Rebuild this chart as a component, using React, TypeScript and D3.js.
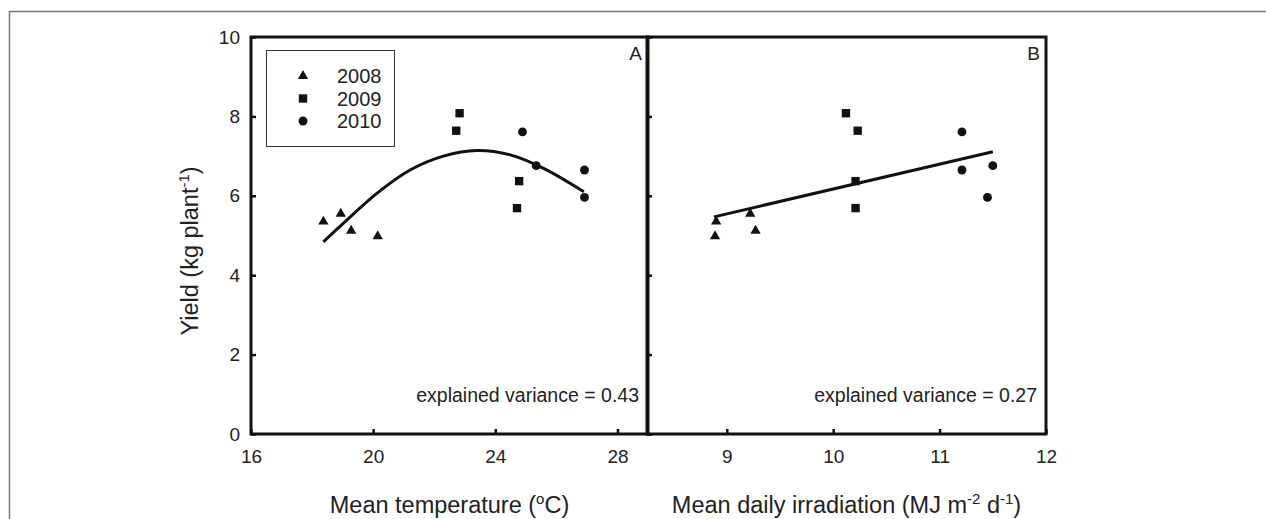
import React, { useEffect, useRef } from "react";
import * as d3 from "d3";

const years = ["2008", "2009", "2010"];
const yield2008 = [5.35, 5.55, 5.12, 4.98];
const temp2008 = [18.37, 18.94, 19.28, 20.15];
const irr2008 = [8.9, 9.22, 9.27, 8.89];
const yield2009 = [8.08, 7.64, 6.37, 5.69];
const temp2009 = [22.83, 22.72, 24.78, 24.71];
const irr2009 = [10.12, 10.23, 10.21, 10.21];
const yield2010 = [7.61, 6.76, 6.65, 5.96];
const temp2010 = [24.89, 25.34, 26.92, 26.92];
const irr2010 = [11.21, 11.5, 11.21, 11.45];

// fitted curves, points
const fitTempX = [18.37, 19.03, 20.12, 21.21, 22.3, 23.4, 24.49, 25.58, 26.9];
const fitTempY = [4.84, 5.31, 6.06, 6.65, 7.0, 7.14, 7.03, 6.69, 6.1];
const fitIrrX = [8.88, 11.5];
const fitIrrY = [5.47, 7.11];

const yTicks = [0, 2, 4, 6, 8, 10];
const tempTicks = [16, 20, 24, 28];
const irrTicks = [9, 10, 11, 12];

const FONT = "'Liberation Sans', Arial, sans-serif";

// text with superscripts: [text, isSuper] pieces
const writeParts = (t, parts, supSize, shift) => {
  let up = false;
  parts.forEach(([txt, sup]) => {
    const s = t.append("tspan").text(txt);
    if (sup && !up) s.attr("dy", -shift);
    if (!sup && up) s.attr("dy", shift);
    if (sup) s.attr("font-size", supSize);
    up = sup;
  });
};

const App = () => {
  const ref = useRef(null);

  useEffect(() => {
    const svg = d3.select(ref.current);
    svg.selectAll("*").remove();

    const top = 37;
    const bottom = 434;
    const y = d3.scaleLinear().domain([0, 10]).range([bottom, top]);
    const xA = d3.scaleLinear().domain([16, 29]).range([251, 648]);
    const xB = d3.scaleLinear().domain([8.25, 12]).range([647, 1046]);

    // outer figure frame (cropped)
    svg
      .append("path")
      .attr("d", "M9.5,519V11.5H1266")
      .attr("fill", "none")
      .attr("stroke", "#7a7a7a")
      .attr("stroke-width", 1.5);

    const shapes = [d3.symbolTriangle, d3.symbolSquare, d3.symbolCircle];
    const sizes = [46, 70, 62];
    const groups = [
      { yv: yield2008, t: temp2008, r: irr2008 },
      { yv: yield2009, t: temp2009, r: irr2009 },
      { yv: yield2010, t: temp2010, r: irr2010 },
    ];

    const panel = (x, ticks, key, fitX, fitY, curve, letter, note, title) => {
      const [x0, x1] = x.range();
      const g = svg.append("g");

      const ax = g
        .append("g")
        .attr("transform", `translate(0,${bottom})`)
        .call(
          d3.axisBottom(x).tickValues(ticks).tickFormat(d3.format("d"))
            .tickSizeInner(-5).tickSizeOuter(0).tickPadding(16)
        );
      ax.select(".domain").remove();
      ax.selectAll("line").attr("stroke", "#111").attr("stroke-width", 2.5);
      ax.attr("font-family", FONT).attr("font-size", 19);
      ax.selectAll("text").attr("fill", "#222");

      const ay = g.append("g").attr("transform", `translate(${x0},0)`);
      if (key === "t") {
        ay.call(d3.axisLeft(y).tickValues(yTicks).tickSizeInner(-5).tickSizeOuter(0).tickPadding(11));
      } else {
        ay.call(d3.axisRight(y).tickValues(yTicks).tickSizeInner(5).tickSizeOuter(0).tickFormat(() => ""));
      }
      ay.select(".domain").remove();
      ay.selectAll("line").attr("stroke", "#111").attr("stroke-width", 2.5);
      ay.attr("font-family", FONT).attr("font-size", 19);
      ay.selectAll("text").attr("fill", "#222");

      g.append("rect")
        .attr("x", x0)
        .attr("y", top)
        .attr("width", x1 - x0)
        .attr("height", bottom - top)
        .attr("fill", "none")
        .attr("stroke", "#111")
        .attr("stroke-width", 3);

      const line = d3
        .line()
        .x((d) => x(d[0]))
        .y((d) => y(d[1]))
        .curve(curve);
      g.append("path")
        .attr("d", line(fitX.map((v, i) => [v, fitY[i]])))
        .attr("fill", "none")
        .attr("stroke", "#111")
        .attr("stroke-width", 3);

      groups.forEach((grp, gi) => {
        g.selectAll(null)
          .data(grp.yv.map((v, i) => [grp[key][i], v]))
          .join("path")
          .attr("transform", (d) => `translate(${x(d[0])},${y(d[1])})`)
          .attr("d", d3.symbol(shapes[gi], sizes[gi]))
          .attr("fill", "#111");
      });

      g.append("text")
        .attr("x", x1 - 6)
        .attr("y", 60)
        .attr("text-anchor", "end")
        .attr("font-family", FONT)
        .attr("font-size", 19)
        .attr("fill", "#222")
        .text(letter);

      g.append("text")
        .attr("x", x1 - 9)
        .attr("y", 402)
        .attr("text-anchor", "end")
        .attr("font-family", FONT)
        .attr("font-size", 19.5)
        .attr("fill", "#222")
        .text(note);

      const t = g
        .append("text")
        .attr("x", (x0 + x1) / 2)
        .attr("y", 513)
        .attr("text-anchor", "middle")
        .attr("font-family", FONT)
        .attr("font-size", 23.5)
        .attr("fill", "#222");
      writeParts(t, title, 15, 9);
    };

    panel(xA, tempTicks, "t", fitTempX, fitTempY, d3.curveCatmullRom, "A",
      "explained variance = 0.43",
      [["Mean temperature (", false], ["o", true], ["C)", false]]);
    panel(xB, irrTicks, "r", fitIrrX, fitIrrY, d3.curveLinear, "B",
      "explained variance = 0.27",
      [["Mean daily irradiation (MJ m", false], ["-2", true], [" d", false], ["-1", true], [")", false]]);

    // y axis title
    const yt = svg
      .append("text")
      .attr("transform", "translate(198,251) rotate(-90)")
      .attr("text-anchor", "middle")
      .attr("font-family", FONT)
      .attr("font-size", 23.5)
      .attr("fill", "#222");
    writeParts(yt, [["Yield (kg plant", false], ["-1", true], [")", false]], 15, 9);

    // legend
    const lg = svg.append("g");
    lg.append("rect")
      .attr("x", 266.5)
      .attr("y", 50.5)
      .attr("width", 128)
      .attr("height", 96)
      .attr("fill", "#fff")
      .attr("stroke", "#333")
      .attr("stroke-width", 1);
    years.forEach((yr, i) => {
      const cy = 76 + i * 22.5;
      lg.append("path")
        .attr("transform", `translate(303,${cy})`)
        .attr("d", d3.symbol(shapes[i], sizes[i]))
        .attr("fill", "#111");
      lg.append("text")
        .attr("x", 337)
        .attr("y", cy)
        .attr("dy", "0.36em")
        .attr("font-family", FONT)
        .attr("font-size", 20)
        .attr("fill", "#222")
        .text(yr);
    });
  }, []);

  return (
    <svg
      ref={ref}
      width={1266}
      height={519}
      style={{ position: "absolute", left: 0, top: 0, background: "#fff" }}
    ></svg>
  );
};

export default App;
